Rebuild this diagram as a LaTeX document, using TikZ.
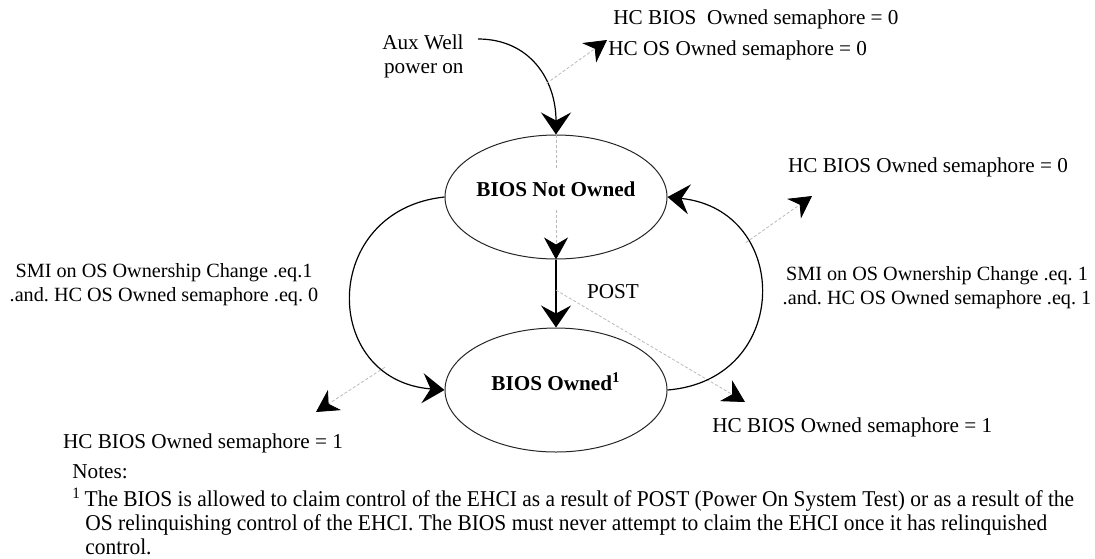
\documentclass[tikz,border=0pt]{standalone}
\usepackage{fontspec}
\setmainfont{Liberation Serif}
\newfontfamily\notefont[FakeStretch=0.95]{Liberation Serif}
\usetikzlibrary{arrows.meta, shapes.geometric}
\frenchspacing

\begin{document}
\begin{tikzpicture}[x=0.5pt, y=-0.5pt, >=Stealth,
    font=\fontsize{10.6}{12}\selectfont,
    state/.style={ellipse, draw=black!85, line width=0.5pt, minimum width=111pt, minimum height=62pt, inner sep=0pt},
    statetext/.style={font=\fontsize{10.6}{12}\selectfont\bfseries},
    lbl/.style={inner sep=0pt},
    cond/.style={inner sep=0pt, align=center, font=\fontsize{10.1}{12}\selectfont},
    flow/.style={draw, line width=0.6pt, -{Stealth[length=11pt, width=15pt, inset=4pt]}},
    tap/.style={draw=gray!55, line width=0.4pt, dash pattern=on 1.5pt off 1pt, -{Stealth[black, length=11pt, width=12pt, inset=3.5pt]}}]
    \useasboundingbox (0,0) rectangle (1095,558);

    % states
    \node[state] (notowned) at (556,197) {};
    \node[state] (owned) at (556,390) {};

    % power on
    \node[lbl, align=right, anchor=east] (aux) at (464,56) {Aux Well\\power on};
    \coordinate (auxstart) at (478,39);
    \draw[flow] (auxstart) .. controls (530,39) and (556,80) .. (notowned.north) coordinate[pos=0.65] (auxtap);
    \coordinate (auxtip) at (607,40);
    \draw[tap] (auxtap) -- (auxtip);
    \node[lbl, anchor=west] (auxsem) at (613,19) {HC BIOS\ \ Owned semaphore = 0};
    \node[lbl, anchor=west] (auxos) at (608,50) {HC OS Owned semaphore = 0};

    \draw[tap] (notowned.north) -- (notowned.south);
    \node[statetext, fill=white, inner xsep=2pt, inner ysep=6pt] (notownedtxt) at (556,189) {BIOS Not Owned};
    \node[statetext] (ownedtxt) at (556,382) {BIOS Owned\textsuperscript{1}};

    % POST
    \draw[flow] (notowned.south) -- (owned.north) coordinate[pos=0.45] (posttap);
    \node[lbl] (post) at (613,292) {POST};
    \coordinate (posttip) at (745,402);
    \draw[tap] (posttap) -- (posttip);
    \node[lbl, anchor=west] (postsem) at (712,427) {HC BIOS Owned semaphore = 1};

    % OS releases
    \draw[flow] (notowned.west) .. controls (320,210) and (320,380) .. (owned.west) coordinate[pos=0.8] (lefttap);
    \coordinate (lefttip) at (316,412);
    \draw[tap] (lefttap) -- (lefttip);
    \node[lbl] (leftsem) at (203,443) {HC BIOS Owned semaphore = 1};
    \node[cond] (leftcond) at (164,285) {SMI on OS Ownership Change .eq.1\\.and. HC OS Owned semaphore .eq. 0};

    % OS claims
    \draw[flow] (owned.east) .. controls (792,380) and (792,210) .. (notowned.east) coordinate[pos=0.7] (righttap);
    \coordinate (righttip) at (812,196);
    \draw[tap] (righttap) -- (righttip);
    \node[lbl] (rightsem) at (928,167) {HC BIOS Owned semaphore = 0};
    \node[cond] (rightcond) at (937,288) {SMI on OS Ownership Change .eq. 1\\.and. HC OS Owned semaphore .eq. 1};

    % notes
    \node[lbl, anchor=west] (notes) at (72,472) {Notes:};
    \node[lbl, anchor=north west, align=left, font=\notefont\fontsize{11.3}{12}\selectfont] (note1) at (72,488) {\textsuperscript{1}\,The BIOS is allowed to claim control of the EHCI as a result of POST (Power On System Test) or as a result of the\\
      \hspace*{6.5pt}OS relinquishing control of the EHCI. The BIOS must never attempt to claim the EHCI once it has relinquished\\
      \hspace*{6.5pt}control.};
\end{tikzpicture}
\end{document}
